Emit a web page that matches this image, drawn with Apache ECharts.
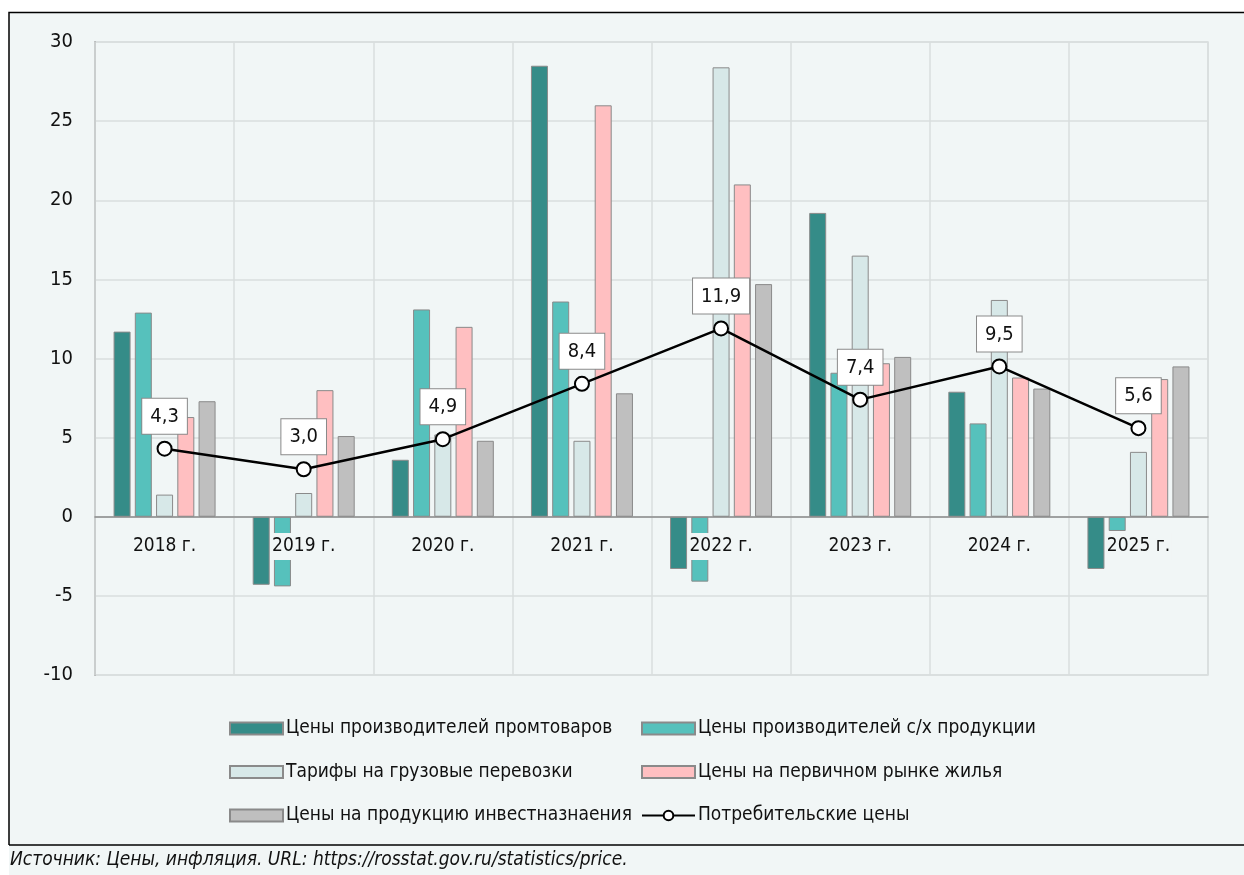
<!DOCTYPE html>
<html lang="ru">
<head>
    <meta charset="UTF-8">
    <title>Цены</title>
    <script src="https://cdn.jsdelivr.net/npm/echarts@6/dist/echarts.min.js"></script>
    <style>
        html, body { margin: 0; padding: 0; background: #fff; }
    </style>
</head>
<body>
<div id="main" style="width: 1244px;height:875px;"></div>
<script>
    var years = ['2018 г.', '2019 г.', '2020 г.', '2021 г.', '2022 г.', '2023 г.', '2024 г.', '2025 г.'];
    var promGoods = [11.7, -4.3, 3.6, 28.5, -3.3, 19.2, 7.9, -3.3];
    var agroGoods = [12.9, -4.4, 13.1, 13.6, -4.1, 9.1, 5.9, -0.9];
    var freight = [1.4, 1.5, 5.2, 4.8, 28.4, 16.5, 13.7, 4.1];
    var housing = [6.3, 8.0, 12.0, 26.0, 21.0, 9.7, 8.8, 8.7];
    var investGoods = [7.3, 5.1, 4.8, 7.8, 14.7, 10.1, 8.1, 9.5];
    var consumer = [4.3, 3.0, 4.9, 8.4, 11.9, 7.4, 9.5, 5.6];

    var names = [
        'Цены производителей промтоваров',
        'Цены производителей с/х продукции',
        'Тарифы на грузовые перевозки',
        'Цены на первичном рынке жилья',
        'Цены на продукцию инвестназнаения',
        'Потребительские цены'
    ];
    var colors = ['#358c88', '#56c1bc', '#d7e8e8', '#ffbfc1', '#bfbfbf'];
    var bg = '#f1f6f6';
    var font = '"Liberation Sans Narrow", "DejaVu Sans Condensed", "Liberation Sans", sans-serif';

    function bar(i, data) {
        return {
            name: names[i],
            type: 'bar',
            data: data,
            barWidth: 17,
            barGap: '25%',
            itemStyle: { color: colors[i], borderColor: '#8a8a8a', borderWidth: 1 }
        };
    }

    var legendBase = {
        top: 719, orient: 'vertical', itemGap: 24.5, padding: 0,
        itemWidth: 53, itemHeight: 12,
        textStyle: { fontSize: 19, color: '#111', fontFamily: font, padding: [0, 0, 0, -2] }
    };

    var myChart = echarts.init(document.getElementById('main'));
    var option = {
        backgroundColor: '#fff',
        textStyle: { fontFamily: font },
        animation: false,
        graphic: [
            { type: 'rect', z: -10, silent: true, shape: { x: 9, y: 12, width: 1240, height: 870 }, style: { fill: bg } },
            { type: 'polyline', z: 100, silent: true, shape: { points: [[9, 845], [9, 12.5], [1244, 12.5]] }, style: { stroke: '#000', lineWidth: 1.5, fill: null } },
            { type: 'line', z: 100, silent: true, shape: { x1: 9, y1: 845, x2: 1244, y2: 845 }, style: { stroke: '#000', lineWidth: 1.5 } },
            { type: 'text', left: 10, top: 851, style: { text: 'Источник: Цены, инфляция. URL: https://rosstat.gov.ru/statistics/price.', font: 'italic 19px ' + font, fill: '#111' } }
        ],
        grid: {
            left: 95, right: 36, top: 42, bottom: 200,
            show: true, borderColor: '#d9dede', borderWidth: 1.5, backgroundColor: 'transparent'
        },
        legend: [
            Object.assign({ left: 229, data: [
                { name: names[0], icon: 'rect' },
                { name: names[2], icon: 'rect' },
                { name: names[4], icon: 'rect' }
            ] }, legendBase),
            Object.assign({ left: 641, data: [
                { name: names[1], icon: 'rect' },
                { name: names[3], icon: 'rect' },
                { name: names[5] }
            ] }, legendBase)
        ],
        xAxis: {
            type: 'category',
            data: years,
            z: 3,
            axisLine: { onZero: true, lineStyle: { color: '#8a8a8a', width: 1.5 } },
            axisTick: { show: false },
            splitLine: { show: true, lineStyle: { color: '#d9dede', width: 1.5 } },
            axisLabel: {
                fontSize: 19, color: '#111', margin: -142, fontFamily: font,
                backgroundColor: bg, padding: [4, 1, 4, 1]
            }
        },
        yAxis: {
            type: 'value',
            min: -10, max: 30, interval: 5,
            axisLine: { show: true, lineStyle: { color: '#8a8a8a', width: 1.5 } },
            axisTick: { show: false },
            splitLine: { lineStyle: { color: '#d9dede', width: 1.5 } },
            axisLabel: { fontSize: 20, color: '#111', margin: 22, fontFamily: font }
        },
        series: [
            bar(0, promGoods),
            bar(1, agroGoods),
            bar(2, freight),
            bar(3, housing),
            bar(4, investGoods),
            {
                name: names[5],
                type: 'line',
                data: consumer,
                z: 10,
                symbol: 'circle',
                symbolSize: 14,
                lineStyle: { color: '#000', width: 2.5 },
                itemStyle: { color: '#fff', borderColor: '#000', borderWidth: 2 },
                label: {
                    show: true,
                    position: 'top',
                    distance: 7,
                    fontSize: 20,
                    color: '#111',
                    fontFamily: font,
                    backgroundColor: '#fff',
                    borderColor: '#8a8a8a',
                    borderWidth: 1,
                    padding: [8, 8, 7, 8],
                    formatter: function (p) { return p.value.toFixed(1).replace('.', ','); }
                }
            }
        ]
    };
    myChart.setOption(option);
</script>
</body>
</html>
